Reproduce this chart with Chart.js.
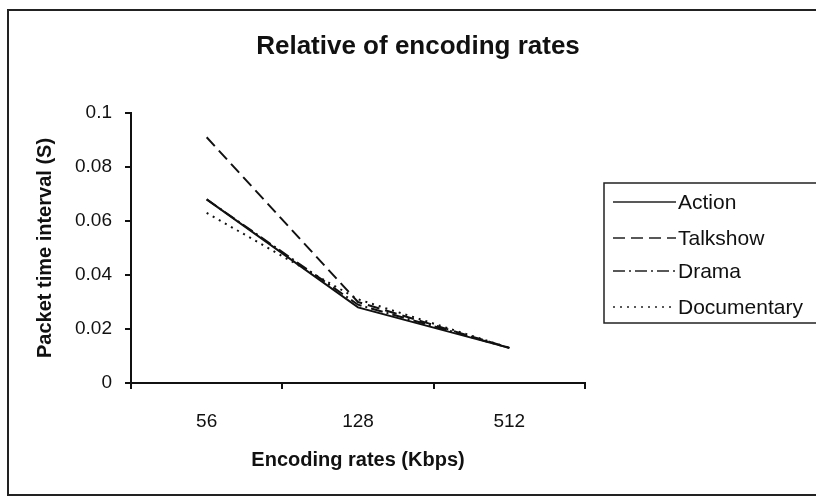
<!DOCTYPE html>
<html>
<head>
<meta charset="utf-8">
<script src="https://cdn.jsdelivr.net/npm/chart.js@4.4.1/dist/chart.umd.min.js"></script>
<style>
  html, body { margin: 0; padding: 0; background: #fff; }
  #wrap { width: 816px; height: 498px; }
</style>
</head>
<body>
<div id="wrap"><canvas id="chart" width="816" height="498"></canvas></div>
<script>
/* DATA */
const rates = ["56", "128", "512"];
const action = [0.068, 0.028, 0.013];
const talkshow = [0.091, 0.030, 0.013];
const drama = [0.068, 0.029, 0.013];
const documentary = [0.063, 0.031, 0.013];
const yTicks = [0, 0.02, 0.04, 0.06, 0.08, 0.1];

const FONT = "'Liberation Sans', Arial, sans-serif";

/* frame, title and legend box drawn on top */
const decor = {
  id: "decor",
  afterDraw(chart) {
    const c = chart.ctx;
    c.save();
    // outer frame
    c.strokeStyle = "#222";
    c.lineWidth = 2;
    c.strokeRect(8, 10, 830, 485);

    // title
    c.fillStyle = "#111";
    c.font = "bold 26px " + FONT;
    c.textAlign = "center";
    c.textBaseline = "middle";
    c.fillText("Relative of encoding rates", 418, 47);

    // legend
    c.lineWidth = 1.5;
    c.setLineDash([]);
    c.strokeRect(604, 183, 240, 140);
    c.font = "21px " + FONT;
    c.textAlign = "left";
    const rowsY = [202, 238, 271, 307];
    chart.data.datasets.forEach((ds, i) => {
      const y = rowsY[i];
      c.beginPath();
      c.lineWidth = 1.6;
      c.setLineDash(ds.borderDash || []);
      c.moveTo(613, y);
      c.lineTo(676, y);
      c.stroke();
      c.setLineDash([]);
      c.fillText(ds.label, 678, y + 1);
    });
    c.restore();
  }
};

const ctx = document.getElementById("chart");

new Chart(ctx, {
  type: "line",
  data: {
    labels: rates,
    datasets: [
      { label: "Action", data: action, borderDash: [] },
      { label: "Talkshow", data: talkshow, borderDash: [12, 6] },
      { label: "Drama", data: drama, borderDash: [12, 4, 2, 4] },
      { label: "Documentary", data: documentary, borderDash: [2, 5] }
    ].map(ds => Object.assign(ds, {
      borderColor: "#111",
      borderWidth: 2,
      pointRadius: 0,
      tension: 0,
      fill: false
    }))
  },
  options: {
    responsive: false,
    animation: false,
    layout: { padding: { left: 0, right: 231, top: 113, bottom: 0 } },
    plugins: {
      legend: { display: false },
      title: { display: false },
      tooltip: { enabled: false }
    },
    scales: {
      x: {
        offset: true,
        grid: { display: true, offset: true, drawOnChartArea: false, drawTicks: true, tickLength: 6, color: "#111", lineWidth: 2 },
        border: { color: "#111", width: 2 },
        ticks: { color: "#111", font: { family: FONT, size: 19 }, padding: 21 },
        title: { display: true, text: "Encoding rates (Kbps)", color: "#111", font: { family: FONT, size: 20, weight: "bold" }, padding: { top: 4, bottom: 26 } },
        afterFit(scale) { scale.height = 115; }
      },
      y: {
        min: 0,
        max: 0.1,
        afterBuildTicks(scale) { scale.ticks = yTicks.map(v => ({ value: v })); },
        grid: { drawOnChartArea: false, drawTicks: true, tickLength: 6, color: "#111", lineWidth: 2 },
        border: { color: "#111", width: 2 },
        ticks: {
          color: "#111",
          font: { family: FONT, size: 19 },
          padding: 13,
          callback: v => String(v)
        },
        title: { display: true, text: "Packet time interval (S)", color: "#111", font: { family: FONT, size: 20, weight: "bold" }, padding: { top: 33, bottom: 4 } },
        afterFit(scale) { scale.width = 131; }
      }
    }
  },
  plugins: [decor]
});
</script>
</body>
</html>
